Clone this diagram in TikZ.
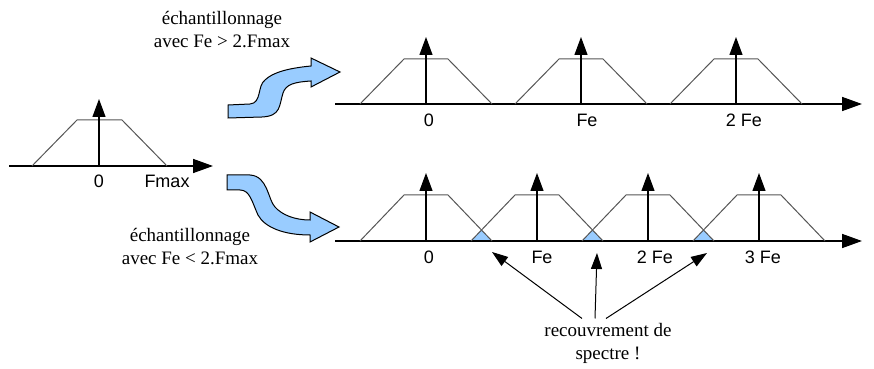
\documentclass[tikz,border=0pt]{standalone}
\usepackage{fontspec}
\setmainfont{Liberation Serif}
\setsansfont{Liberation Sans}
\usetikzlibrary{arrows.meta}

\definecolor{recouv}{RGB}{153,204,255}
\definecolor{trait}{RGB}{85,85,85}

\begin{document}
\begin{tikzpicture}[x=0.5pt,y=-0.5pt,
	axe/.style={line width=0.8pt,-{Triangle[length=10pt,width=7pt]}},
	raie/.style={line width=0.6pt,-{Triangle[length=9pt,width=6.5pt]}},
	spectre/.style={trait,line width=0.5pt},
	freq/.style={font=\sffamily\fontsize{9}{10}\selectfont,inner sep=1pt},
	legende/.style={font=\fontsize{9.5}{11.5}\selectfont,align=center,inner sep=2pt},
	fleche/.style={line width=0.5pt,-{Triangle[length=8pt,width=5.5pt]}},
	bande/.style={fill=recouv,draw=black,line width=0.5pt}]
	\useasboundingbox (0,0) rectangle (874,369);
	% spectre du signal
	\draw[axe] (9,166) -- (213,166);
	\draw[spectre] (32,166) -- (77,120) -- (122,120) -- (167,166);
	\draw[raie] (99,166) -- (99,99);
	\node[freq] (f0) at (99,181) {0};
	\node[freq] (fmax) at (167,181) {Fmax};
	% Fe > 2.Fmax
	\node[legende] (haut) at (222,30) {échantillonnage\\avec Fe > 2.Fmax};
	\draw[bande] (228,105) -- (250,104) .. controls (262,103) and (257,86) .. (265,80)
		.. controls (273,72) and (290,68) .. (311,66) -- (311,58) -- (340,72) -- (311,87)
		-- (311,81) .. controls (295,82) and (286,84) .. (283,93)
		.. controls (279,106) and (281,116) .. (262,117) -- (228,118) -- cycle;
	\draw[axe] (335,104) -- (862,104);
	\foreach \c in {426,581,736} {
		\draw[spectre] (\c-66,104) -- (\c-22,59) -- (\c+22,59) -- (\c+66,104);
		\draw[raie] (\c,104) -- (\c,37);
	}
	\node[freq] (h0) at (429,120) {0};
	\node[freq] (h1) at (587,120) {Fe};
	\node[freq] (h2) at (744,120) {2 Fe};
	% Fe < 2.Fmax
	\node[legende] (bas) at (190,247) {échantillonnage\\avec Fe < 2.Fmax};
	\draw[bande] (227,175) -- (250,175) .. controls (268,176) and (268,200) .. (275,207)
		.. controls (282,215) and (295,220) .. (310,220) -- (310,212) -- (339,227) -- (310,242)
		-- (310,235) .. controls (285,235) and (265,228) .. (258,215)
		.. controls (252,202) and (250,190) .. (240,190) -- (227,190) -- cycle;
	\foreach \c in {426,537,648}
		\fill[recouv] (\c+45,241) -- (\c+55.5,230) -- (\c+66,241) -- cycle;
	\draw[axe] (335,241) -- (862,241);
	\foreach \c in {426,537,648,759} {
		\draw[spectre] (\c-66,241) -- (\c-22,195) -- (\c+22,195) -- (\c+66,241);
		\draw[raie] (\c,241) -- (\c,173);
	}
	\node[freq] (b0) at (429,257) {0};
	\node[freq] (b1) at (542,257) {Fe};
	\node[freq] (b2) at (655,257) {2 Fe};
	\node[freq] (b3) at (763,257) {3 Fe};
	% recouvrement
	\coordinate (r1) at (492,252);
	\coordinate (r2) at (597,253);
	\coordinate (r3) at (707,253);
	\node[legende] (note) at (608,343) {recouvrement de\\spectre !};
	\draw[fleche] ([xshift=-13pt]note.north) -- (r1);
	\draw[fleche] ([xshift=-6.5pt]note.north) -- (r2);
	\draw[fleche] ([xshift=-1pt]note.north) -- (r3);
\end{tikzpicture}
\end{document}
